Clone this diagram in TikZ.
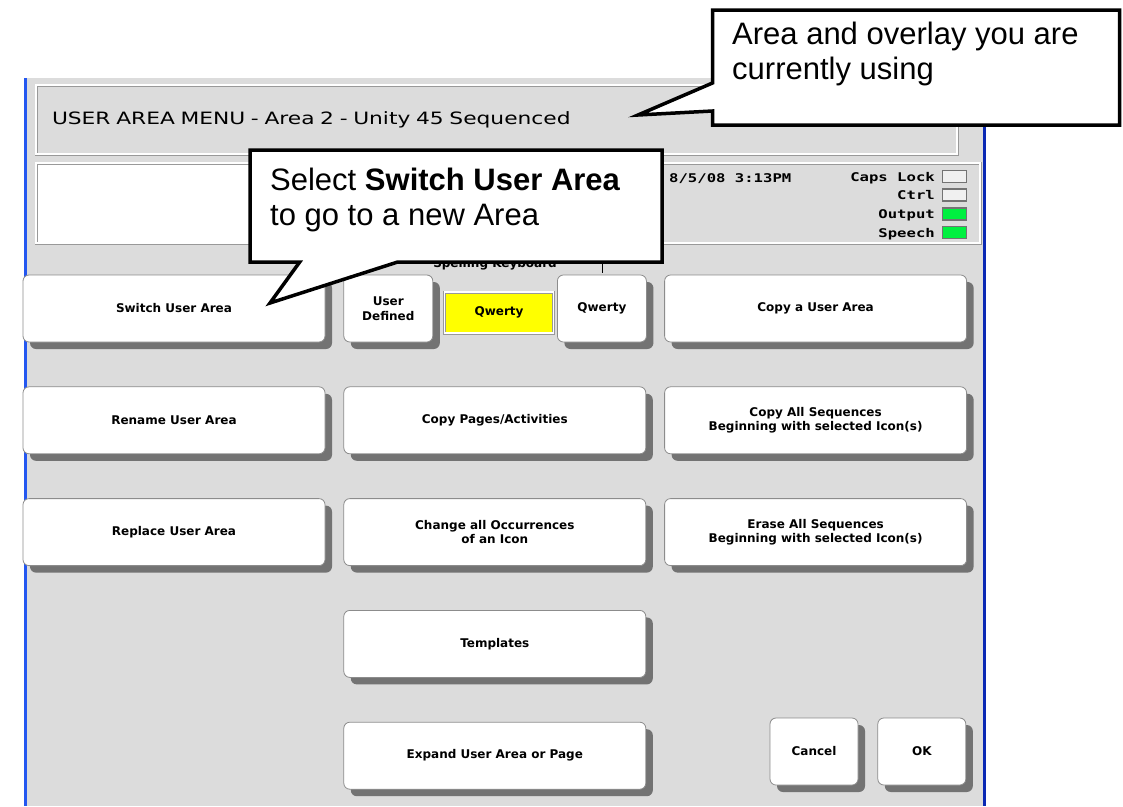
\documentclass[tikz,border=0pt]{standalone}
\usepackage{fontspec}
\setmainfont{Liberation Sans}
\newfontfamily\keyfont{DejaVu Sans}
\newfontfamily\titlefont[FakeStretch=1.28]{DejaVu Sans}
\newfontfamily\clockfont[FakeStretch=1.3]{DejaVu Sans Mono}
\usetikzlibrary{positioning,shapes.callouts,shadows}

\definecolor{panelgray}{HTML}{DCDCDC}
\definecolor{leftblue}{HTML}{2457F0}
\definecolor{rightblue}{HTML}{0A28B4}
\definecolor{ledgreen}{HTML}{00F040}
\definecolor{keyyellow}{HTML}{FFFF00}

\tikzset{
  menukey/.style={draw=black!45, fill=white, rounded corners=6pt, line width=0.8pt,
    general shadow={fill=black!55, shadow xshift=7pt, shadow yshift=-7pt},
    inner sep=0pt, align=center, minimum height=67pt,
    font=\keyfont\bfseries\fontsize{12}{14.5}\selectfont},
  widekey/.style={menukey, minimum width=302pt},
  smallkey/.style={menukey, minimum width=89pt},
  groovebox/.style={draw=black!40, double=white, double distance=1.6pt, line width=0.7pt, inner sep=0pt},
  statustext/.style={font=\clockfont\bfseries\fontsize{12}{14}\selectfont, inner sep=0pt},
  led/.style={draw=black!55, line width=1.2pt, minimum width=24pt, minimum height=12pt, inner sep=0pt},
  notebox/.style={rectangle callout, draw=black, fill=white, line width=3.5pt},
  notetext/.style={font=\fontsize{31}{35}\selectfont, align=left, inner sep=0pt, anchor=north west}
}

\begin{document}
\begin{tikzpicture}[x=1pt,y=-1pt]
\useasboundingbox (0,0) rectangle (1123,806);
\fill[white] (0,0) rectangle (1123,806);

% dialog window
\fill[panelgray] (25,78) rectangle (984,806);
\draw[leftblue, line width=3pt] (25.5,78) -- (25.5,806);
\draw[rightblue, line width=3pt] (984.5,78) -- (984.5,806);

% title and status strip
\node[groovebox, fill=panelgray, minimum width=921pt, minimum height=69pt, text width=889pt,
  font=\titlefont\fontsize{17}{20}\selectfont] (titlebar) at (496.5,119.5)
  {USER AREA MENU - Area 2 - Unity 45 Sequenced};
\node[groovebox, fill=white, minimum width=624pt, minimum height=80pt] (msgbox) at (348,203) {};
\node[groovebox, fill=panelgray, minimum width=318pt, minimum height=80pt] (statusbox) at (821,203) {};

\node[statustext, anchor=base west] (clock) at (669,182) {8/5/08 3:13PM};
\node[statustext, anchor=base east] (capslabel) at (935,181.5) {Caps Lock};
\node[statustext, anchor=base east] (ctrllabel) at (935,199.5) {Ctrl};
\node[statustext, anchor=base east] (outlabel) at (935,218.5) {Output};
\node[statustext, anchor=base east] (speechlabel) at (935,237.5) {Speech};
\node[led, fill=gray!12] (capsled) at (954.5,176.5) {};
\node[led, fill=gray!12] (ctrlled) at (954.5,195) {};
\node[led, fill=ledgreen] (outled) at (954.5,214) {};
\node[led, fill=ledgreen] (speechled) at (954.5,232.5) {};

\node[font=\keyfont\bfseries\fontsize{12}{14}\selectfont, anchor=base, inner sep=0pt] (spelllabel) at (495,267) {Spelling Keyboard};
\draw[line width=1pt] (602,263) -- (602,273);

% menu keys
\node[widekey] (switcharea) at (174,308.5) {Switch User Area};
\node[widekey, below=44pt of switcharea] (renamearea) {Rename User Area};
\node[widekey, below=44pt of renamearea] (replacearea) {Replace User Area};

\node[smallkey, right=18pt of switcharea] (userdefined) {User\\Defined};
\node[groovebox, fill=keyyellow, minimum width=109pt, minimum height=41pt,
  font=\keyfont\bfseries\fontsize{12}{14}\selectfont, right=11pt of userdefined, yshift=-4pt] (qwertyon) {Qwerty};
\node[smallkey, anchor=west] (qwertykey) at (557,308.5) {Qwerty};
\node[widekey, right=18pt of renamearea] (copypages) {Copy Pages/Activities};
\node[widekey, right=18pt of replacearea] (changeicon) {Change all Occurrences\\of an Icon};
\node[widekey, below=44pt of changeicon] (templates) {Templates};
\node[widekey, below=44pt of templates] (expandarea) {Expand User Area or Page};

\node[widekey, right=18pt of copypages] (copyseq) {Copy All Sequences\\Beginning with selected Icon(s)};
\node[widekey, right=18pt of changeicon] (eraseseq) {Erase All Sequences\\Beginning with selected Icon(s)};
\node[widekey, above=44pt of copyseq] (copyarea) {Copy a User Area};
\node[menukey, minimum width=88pt] (cancelkey) at (814,751.5) {Cancel};
\node[menukey, minimum width=88pt, right=19pt of cancelkey] (okkey) {OK};

% callouts
\node[notebox, minimum width=407pt, minimum height=115pt, callout absolute pointer={(638,115)},
  callout pointer width=28pt] (areanote) at (916,67.5) {};
\node[notetext] (areatext) at (732,22) {Area and overlay you are\\currently using};
\node[notebox, minimum width=412pt, minimum height=112pt, callout absolute pointer={(270,303)},
  callout pointer width=98pt] (switchnote) at (456,206) {};
\node[notetext] (switchtext) at (270,167.5) {Select \textbf{Switch User Area}\\to go to a new Area};
\end{tikzpicture}
\end{document}
